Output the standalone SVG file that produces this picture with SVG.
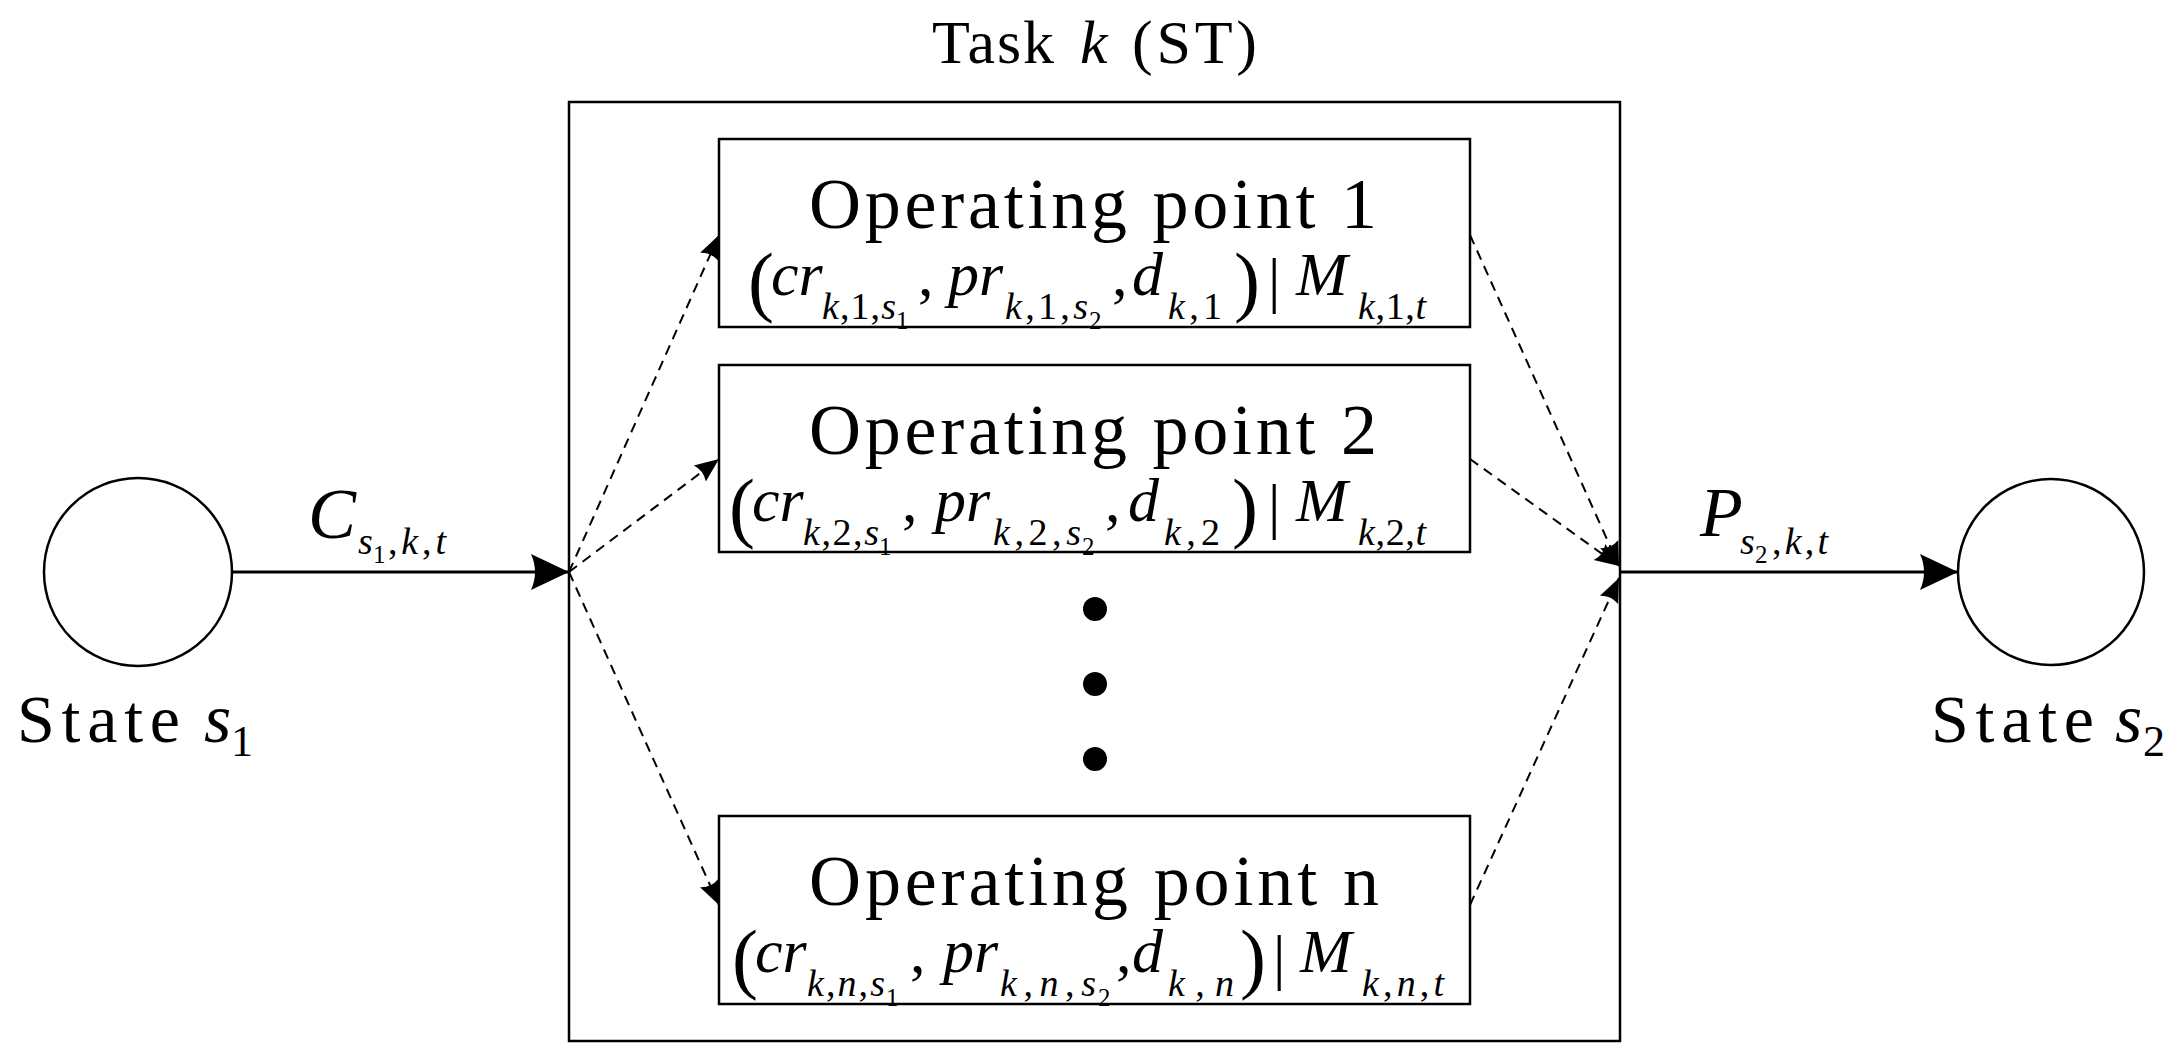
<svg xmlns="http://www.w3.org/2000/svg" width="2182" height="1059" viewBox="0 0 2182 1059">
<style>
text{font-family:"Liberation Serif","Times New Roman",serif;fill:#000}
.i{font-style:italic}
.op{font-size:72px}
.fm{font-size:62px}
.fs{font-size:38px}
.fss{font-size:25px}
.fp{font-size:78px}
.st{font-size:68px}
.tk{font-size:62px}
.box{fill:none;stroke:#000;stroke-width:2.5}
.solid{fill:none;stroke:#000;stroke-width:3}
.dash{fill:none;stroke:#000;stroke-width:2;stroke-dasharray:10 7}
</style>
<defs>
<marker id="big" markerUnits="userSpaceOnUse" markerWidth="40" markerHeight="40" refX="38" refY="18" orient="auto" viewBox="0 0 40 36">
<path d="M0,0 L38,18 L0,36 Q8,18 0,0 z" fill="#000"/>
</marker>
<marker id="small" markerUnits="userSpaceOnUse" markerWidth="26" markerHeight="22" refX="24" refY="10" orient="auto" viewBox="0 0 26 20">
<path d="M0,0 L24,10 L0,20 Q5,10 0,0 z" fill="#000"/>
</marker>
</defs>
<rect width="2182" height="1059" fill="#fff"/>

<g id="task-title">
<text class="tk" x="932" y="63" textLength="122">Task</text>
<text class="tk i" x="1080" y="63">k</text>
<text class="tk" x="1132" y="63" textLength="125">(ST)</text>
</g>

<g id="task-box">
<rect class="box" x="569" y="102" width="1051" height="939"/>
</g>

<g id="state-s1">
<circle class="box" cx="138" cy="572" r="94"/>
<text class="st" x="17" y="742" textLength="163">State</text>
<text class="i" style="font-size:70px" x="204" y="742">s</text>
<text style="font-size:44px" x="231" y="756">1</text>
</g>

<g id="state-s2">
<circle class="box" cx="2051" cy="572" r="93"/>
<text class="st" x="1931" y="742" textLength="163">State</text>
<text class="i" style="font-size:70px" x="2115" y="742">s</text>
<text style="font-size:44px" x="2143" y="756">2</text>
</g>

<g id="op1">
<rect class="box" x="719" y="139" width="751" height="188"/>
<text class="op" x="809" y="228" textLength="568">Operating point 1</text>
<text class="fp" x="748" y="307">(</text>
<text class="fm i" x="771" y="295">cr</text>
<text class="fs" x="822" y="319" textLength="74"><tspan class="i">k</tspan>,1,<tspan class="i">s</tspan></text>
<text class="fss" x="896" y="329">1</text>
<text class="fm" x="918" y="295">,</text>
<text class="fm i" x="948" y="295">pr</text>
<text class="fs" x="1005" y="319" textLength="83"><tspan class="i">k</tspan>,1,<tspan class="i">s</tspan></text>
<text class="fss" x="1089" y="329">2</text>
<text class="fm" x="1112" y="295">,</text>
<text class="fm i" x="1132" y="295">d</text>
<text class="fs" x="1168" y="319" textLength="54"><tspan class="i">k</tspan>,1</text>
<text class="fp" x="1234" y="307">)</text>
<text class="fm" x="1268" y="301">|</text>
<text class="fm i" x="1296" y="295">M</text>
<text class="fs" x="1358" y="319" textLength="68"><tspan class="i">k</tspan>,1,<tspan class="i">t</tspan></text>
</g>

<g id="op2">
<rect class="box" x="719" y="365" width="751" height="187"/>
<text class="op" x="809" y="454" textLength="568">Operating point 2</text>
<text class="fp" x="729" y="533">(</text>
<text class="fm i" x="752" y="521">cr</text>
<text class="fs" x="803" y="545" textLength="76"><tspan class="i">k</tspan>,2,<tspan class="i">s</tspan></text>
<text class="fss" x="879" y="555">1</text>
<text class="fm" x="902" y="521">,</text>
<text class="fm i" x="935" y="521">pr</text>
<text class="fs" x="993" y="545" textLength="88"><tspan class="i">k</tspan>,2,<tspan class="i">s</tspan></text>
<text class="fss" x="1082" y="555">2</text>
<text class="fm" x="1105" y="521">,</text>
<text class="fm i" x="1128" y="521">d</text>
<text class="fs" x="1164" y="545" textLength="56"><tspan class="i">k</tspan>,2</text>
<text class="fp" x="1232" y="533">)</text>
<text class="fm" x="1268" y="527">|</text>
<text class="fm i" x="1296" y="521">M</text>
<text class="fs" x="1358" y="545" textLength="68"><tspan class="i">k</tspan>,2,<tspan class="i">t</tspan></text>
</g>

<g id="dots">
<circle cx="1095" cy="609" r="12"/>
<circle cx="1095" cy="684" r="12"/>
<circle cx="1095" cy="759" r="12"/>
</g>

<g id="opn">
<rect class="box" x="719" y="816" width="751" height="188"/>
<text class="op" x="809" y="905" textLength="570">Operating point n</text>
<text class="fp" x="732" y="984">(</text>
<text class="fm i" x="755" y="972">cr</text>
<text class="fs" x="807" y="996" textLength="78"><tspan class="i">k</tspan>,<tspan class="i">n</tspan>,<tspan class="i">s</tspan></text>
<text class="fss" x="886" y="1006">1</text>
<text class="fm" x="910" y="972">,</text>
<text class="fm i" x="943" y="972">pr</text>
<text class="fs" x="1000" y="996" textLength="96"><tspan class="i">k</tspan>,<tspan class="i">n</tspan>,<tspan class="i">s</tspan></text>
<text class="fss" x="1098" y="1006">2</text>
<text class="fm" x="1116" y="972">,</text>
<text class="fm i" x="1132" y="972">d</text>
<text class="fs" x="1168" y="996" textLength="66"><tspan class="i">k</tspan>,<tspan class="i">n</tspan></text>
<text class="fp" x="1240" y="984">)</text>
<text class="fm" x="1273" y="978">|</text>
<text class="fm i" x="1300" y="972">M</text>
<text class="fs" x="1362" y="996" textLength="82"><tspan class="i">k</tspan>,<tspan class="i">n</tspan>,<tspan class="i">t</tspan></text>
</g>

<g id="connectors">
<line class="solid" x1="232" y1="572" x2="569" y2="572" marker-end="url(#big)"/>
<line class="solid" x1="1620" y1="572" x2="1958" y2="572" marker-end="url(#big)"/>
<line class="dash" x1="569" y1="572" x2="719" y2="235" marker-end="url(#small)"/>
<line class="dash" x1="569" y1="572" x2="719" y2="459" marker-end="url(#small)"/>
<line class="dash" x1="569" y1="572" x2="719" y2="905" marker-end="url(#small)"/>
<line class="dash" x1="1470" y1="235" x2="1619" y2="566" marker-end="url(#small)"/>
<line class="dash" x1="1470" y1="459" x2="1619" y2="566" marker-end="url(#small)"/>
<line class="dash" x1="1470" y1="905" x2="1619" y2="578" marker-end="url(#small)"/>
</g>

<g id="edge-labels">
<text class="i" style="font-size:72px" x="308" y="538">C</text>
<text class="i fs" x="358" y="554">s</text>
<text class="fss" x="373" y="563">1</text>
<text class="fs" x="388" y="554" textLength="58">,<tspan class="i">k</tspan>,<tspan class="i">t</tspan></text>
<text class="i" style="font-size:70px" x="1700" y="536">P</text>
<text class="i fs" x="1740" y="554">s</text>
<text class="fss" x="1755" y="563">2</text>
<text class="fs" x="1772" y="554" textLength="56">,<tspan class="i">k</tspan>,<tspan class="i">t</tspan></text>
</g>
</svg>
